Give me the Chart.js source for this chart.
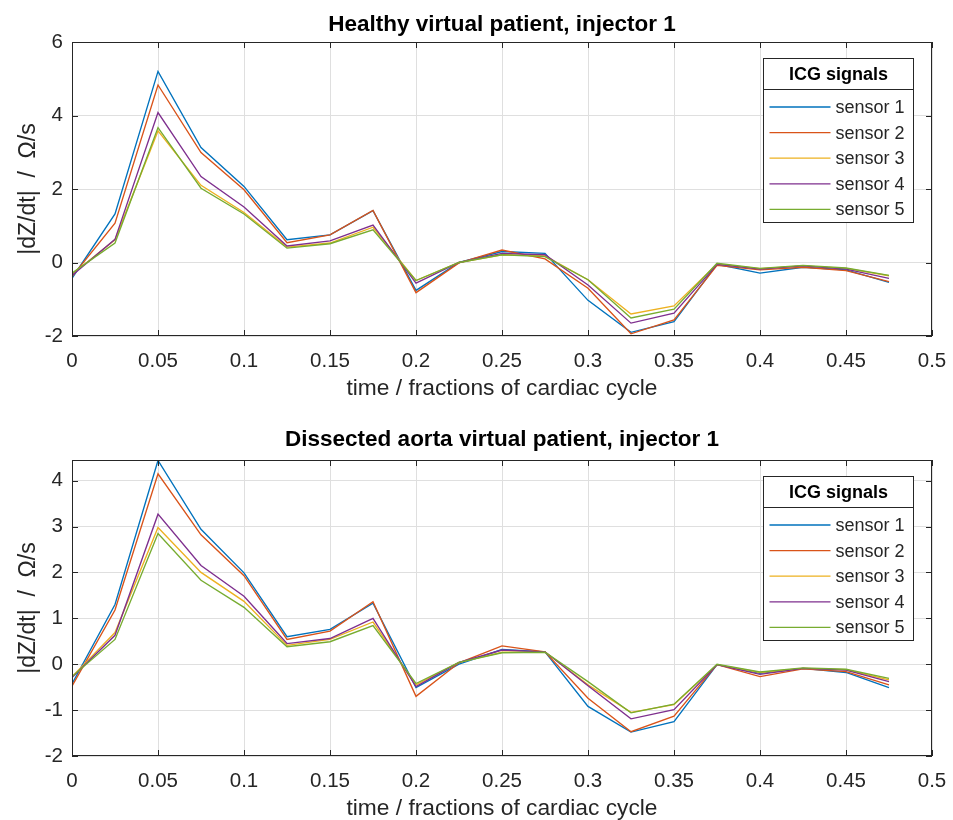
<!DOCTYPE html>
<html>
<head>
<meta charset="utf-8">
<script src="https://cdn.jsdelivr.net/npm/chart.js@4.4.1/dist/chart.umd.min.js"></script>
<style>
  body { margin: 0; background: #fff; }
  .panel { position: absolute; left: 0; width: 953px; height: 410px; }
</style>
</head>
<body>
<div class="panel" style="top:0"><canvas id="chartHealthy" width="953" height="410"></canvas></div>
<div class="panel" style="top:410px"><canvas id="chartDissected" width="953" height="410"></canvas></div>
<script>
// tiempo (fracciones del ciclo cardiaco)
const tiempos = [0, 0.025, 0.05, 0.075, 0.1, 0.125, 0.15, 0.175, 0.2, 0.225,
                 0.25, 0.275, 0.3, 0.325, 0.35, 0.375, 0.4, 0.425, 0.45, 0.475];

const sensores = ['sensor 1', 'sensor 2', 'sensor 3', 'sensor 4', 'sensor 5'];
const colores = ['#0072BD', '#D95319', '#EDB120', '#7E2F8E', '#77AC30'];

// paciente sano, inyector 1
const sano1 = [-0.43, 1.32, 5.20, 3.13, 2.07, 0.62, 0.75, 1.41, -0.76, 0.00, 0.30, 0.25, -1.03, -1.90, -1.61, -0.05, -0.29, -0.13, -0.20, -0.54];
const sano2 = [-0.38, 1.07, 4.83, 2.99, 1.98, 0.54, 0.75, 1.42, -0.82, -0.01, 0.34, 0.10, -0.70, -1.94, -1.56, -0.08, -0.20, -0.13, -0.22, -0.52];
const sano3 = [-0.32, 0.62, 3.58, 2.10, 1.36, 0.42, 0.53, 0.96, -0.49, 0.00, 0.21, 0.18, -0.47, -1.40, -1.18, -0.04, -0.17, -0.09, -0.16, -0.36];
const sano4 = [-0.35, 0.63, 4.08, 2.34, 1.51, 0.45, 0.59, 1.02, -0.56, 0.00, 0.25, 0.21, -0.61, -1.65, -1.38, -0.05, -0.18, -0.09, -0.18, -0.43];
const sano5 = [-0.29, 0.53, 3.67, 2.02, 1.32, 0.39, 0.51, 0.89, -0.49, 0.00, 0.21, 0.16, -0.47, -1.51, -1.27, -0.02, -0.16, -0.08, -0.15, -0.35];

// aorta disecada, inyector 1
const disec1 = [-0.43, 1.30, 4.44, 2.94, 1.99, 0.60, 0.76, 1.33, -0.51, 0.00, 0.32, 0.27, -0.92, -1.48, -1.25, -0.01, -0.20, -0.09, -0.18, -0.51];
const disec2 = [-0.48, 1.18, 4.15, 2.82, 1.93, 0.54, 0.72, 1.36, -0.70, 0.03, 0.40, 0.27, -0.74, -1.47, -1.13, -0.01, -0.27, -0.10, -0.16, -0.45];
const disec3 = [-0.27, 0.69, 2.98, 2.00, 1.37, 0.41, 0.54, 0.92, -0.45, 0.04, 0.26, 0.27, -0.45, -1.05, -0.88, -0.01, -0.18, -0.09, -0.12, -0.34];
const disec4 = [-0.29, 0.63, 3.27, 2.15, 1.48, 0.45, 0.56, 1.00, -0.49, 0.04, 0.31, 0.27, -0.47, -1.19, -0.99, -0.01, -0.22, -0.09, -0.13, -0.38];
const disec5 = [-0.27, 0.54, 2.85, 1.83, 1.24, 0.38, 0.49, 0.84, -0.42, 0.04, 0.25, 0.26, -0.38, -1.06, -0.87, 0.00, -0.17, -0.08, -0.11, -0.31];

const tituloLeyenda = 'ICG signals';
const etiquetaX = 'time / fractions of cardiac cycle';
const etiquetaY = '|dZ/dt|  /  \u03A9/s';

Chart.defaults.font.family = '"Liberation Sans", Arial, sans-serif';
Chart.defaults.font.size = 20.5;
Chart.defaults.color = '#262626';

// Caja, marcas internas y leyenda estilo MATLAB
const marcoMatlab = {
  id: 'marcoMatlab',
  afterDraw(chart) {
    const ctx = chart.ctx;
    const a = chart.chartArea;
    const sx = chart.scales.x, sy = chart.scales.y;
    ctx.save();
    ctx.strokeStyle = '#262626';
    ctx.lineWidth = 1;
    ctx.strokeRect(Math.round(a.left) + 0.5, Math.round(a.top) + 0.5,
                   Math.round(a.right - a.left) - 1, Math.round(a.bottom - a.top) - 1);
    ctx.beginPath();
    sx.ticks.forEach(t => {
      const px = Math.round(sx.getPixelForValue(t.value)) + 0.5;
      ctx.moveTo(px, a.bottom); ctx.lineTo(px, a.bottom - 6);
      ctx.moveTo(px, a.top); ctx.lineTo(px, a.top + 6);
    });
    sy.ticks.forEach(t => {
      const py = Math.round(sy.getPixelForValue(t.value)) + 0.5;
      ctx.moveTo(a.left, py); ctx.lineTo(a.left + 6, py);
      ctx.moveTo(a.right, py); ctx.lineTo(a.right - 6, py);
    });
    ctx.stroke();

    // leyenda
    const der = Math.round(a.right) - 18.5;
    const izq = der - 150;
    const arriba = Math.round(a.top) + 16.5;
    const alto = 164;
    ctx.fillStyle = '#fff';
    ctx.fillRect(izq, arriba, 150, alto);
    ctx.strokeRect(izq, arriba, 150, alto);
    ctx.beginPath();
    ctx.moveTo(izq, arriba + 31); ctx.lineTo(der, arriba + 31);
    ctx.stroke();
    ctx.textBaseline = 'middle';
    ctx.textAlign = 'center';
    ctx.fillStyle = '#000';
    ctx.font = 'bold 18px "Liberation Sans", Arial, sans-serif';
    ctx.fillText(tituloLeyenda, izq + 75, arriba + 17);
    ctx.textAlign = 'left';
    ctx.font = '18px "Liberation Sans", Arial, sans-serif';
    chart.data.datasets.forEach((ds, i) => {
      const y = arriba + 48.5 + i * 25.6;
      ctx.strokeStyle = ds.borderColor;
      ctx.lineWidth = 1.3;
      ctx.beginPath();
      ctx.moveTo(izq + 6, y); ctx.lineTo(izq + 67, y);
      ctx.stroke();
      ctx.fillStyle = '#262626';
      ctx.fillText(ds.label, izq + 72, y + 1);
    });
    ctx.restore();
  }
};

function crearGrafica(id, titulo, series, yMin, yMax, yPaso, padTitulo, altoX, padX) {
  const datasets = series.map((serie, i) => ({
    label: sensores[i],
    data: serie.map((v, j) => ({ x: tiempos[j], y: v })),
    borderColor: colores[i],
    backgroundColor: colores[i],
    borderWidth: 1.35,
    pointRadius: 0,
    tension: 0,
    order: 5 - i
  }));
  return new Chart(document.getElementById(id), {
    type: 'line',
    data: { datasets: datasets },
    options: {
      responsive: false,
      animation: false,
      devicePixelRatio: 1,
      layout: { padding: { left: 0, right: 21, top: 0, bottom: 0 } },
      plugins: {
        legend: { display: false },
        tooltip: { enabled: false },
        title: {
          display: true,
          fullSize: false,
          text: titulo,
          color: '#000',
          font: { size: 22.5, weight: 'bold', lineHeight: 1.2 },
          padding: padTitulo
        }
      },
      scales: {
        x: {
          type: 'linear',
          min: 0,
          max: 0.5,
          border: { display: false },
          grid: { color: '#dfdfdf', lineWidth: 1, drawTicks: false },
          ticks: {
            stepSize: 0.05,
            padding: 13,
            maxRotation: 0,
            callback: v => Number(v.toFixed(3)).toString()
          },
          title: {
            display: true,
            text: etiquetaX,
            font: { size: 22.75, lineHeight: 1 },
            padding: { top: 0, bottom: padX }
          },
          afterFit: s => { s.height = altoX; s.paddingLeft = 0; s.paddingRight = 0; }
        },
        y: {
          min: yMin,
          max: yMax,
          border: { display: false },
          grid: { color: '#dfdfdf', lineWidth: 1, drawTicks: false },
          ticks: { stepSize: yPaso, padding: 9, includeBounds: false },
          title: {
            display: true,
            text: etiquetaY,
            font: { size: 23, lineHeight: 1.2 },
            padding: { top: 15, bottom: 0 }
          },
          afterFit: s => { s.width = 72; s.paddingTop = 0; s.paddingBottom = 0; }
        }
      }
    },
    plugins: [marcoMatlab]
  });
}

crearGrafica('chartHealthy', 'Healthy virtual patient, injector 1',
  [sano1, sano2, sano3, sano4, sano5], -2, 6, 2,
  { top: 11.5, bottom: 3.5 }, 74, 9.6);
crearGrafica('chartDissected', 'Dissected aorta virtual patient, injector 1',
  [disec1, disec2, disec3, disec4, disec5], -2, 4.45, 1,
  { top: 16.5, bottom: 6.5 }, 64, 0);
</script>
</body>
</html>
